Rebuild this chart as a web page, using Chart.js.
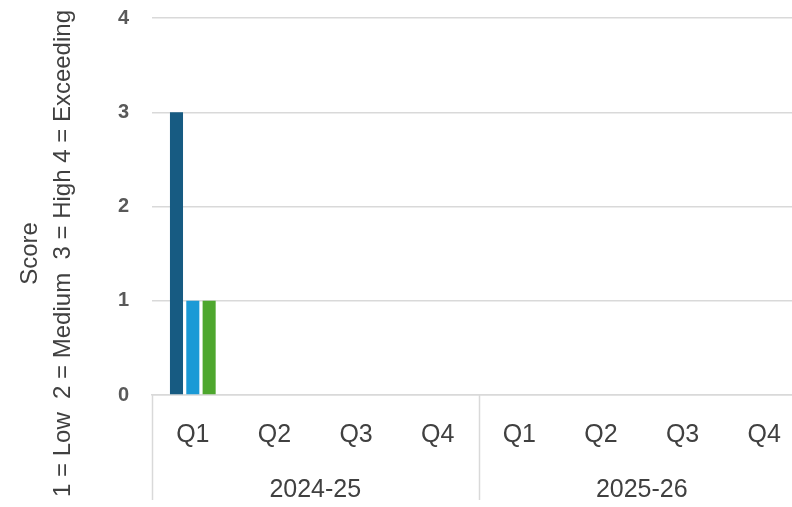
<!DOCTYPE html>
<html>
<head>
<meta charset="utf-8">
<script src="https://cdn.jsdelivr.net/npm/chart.js@4.4.1/dist/chart.umd.min.js"></script>
<style>
  html, body { margin: 0; padding: 0; background: #fff; overflow: hidden; }
  .frame { width: 792px; height: 507px; overflow: hidden; }
  .graph { width: 810px; height: 507px; }
</style>
</head>
<body>
<div class="frame">
  <div class="graph"><canvas id="scoreChart"></canvas></div>
</div>
<script>
const quarters = ['Q1', 'Q2', 'Q3', 'Q4', 'Q1', 'Q2', 'Q3', 'Q4'];
const years = ['2024-25', '2025-26'];
const series1 = [3, null, null, null, null, null, null, null];
const series2 = [1, null, null, null, null, null, null, null];
const series3 = [1, null, null, null, null, null, null, null];
const yTicks = [0, 1, 2, 3, 4];
const titleLines = ['Score', '1 = Low  2 = Medium  3 = High 4 = Exceeding'];

const font = "'Liberation Sans', Arial, sans-serif";
const gridGrey = '#d9d9d9';

// vertical separators under the axis, between year groups
const groupLines = {
    id: 'groupLines',
    afterDraw(chart) {
        const { ctx, chartArea, scales } = chart;
        const per = quarters.length / years.length;
        ctx.save();
        ctx.strokeStyle = gridGrey;
        ctx.lineWidth = 1.5;
        for (let i = 0; i <= years.length; i++) {
            const x = Math.round(scales.x.getPixelForValue(i * per - 0.5)) + 0.5;
            ctx.beginPath();
            ctx.moveTo(x, chartArea.bottom);
            ctx.lineTo(x, 500);
            ctx.stroke();
        }
        ctx.restore();
    }
};

// two-line y title centred on the whole canvas
const yTitle = {
    id: 'yTitle',
    afterDraw(chart) {
        const { ctx, height } = chart;
        ctx.save();
        ctx.fillStyle = '#404040';
        ctx.font = '24px ' + font;
        ctx.textAlign = 'center';
        ctx.textBaseline = 'middle';
        ctx.translate(0, height / 2);
        ctx.rotate(-Math.PI / 2);
        ctx.fillText(titleLines[0], 0, 30);
        ctx.fillText(titleLines[1], 0, 63);
        ctx.restore();
    }
};

new Chart(document.getElementById('scoreChart'), {
    type: 'bar',
    data: {
        labels: quarters,
        datasets: [
            { label: 'Series 1', data: series1, backgroundColor: '#175b82' },
            { label: 'Series 2', data: series2, backgroundColor: '#1b9ad6' },
            { label: 'Series 3', data: series3, backgroundColor: '#4ea72e' },
        ],
    },
    options: {
        responsive: true,
        maintainAspectRatio: false,
        animation: false,
        datasets: { bar: { categoryPercentage: 0.6, barPercentage: 0.8 } },
        layout: { padding: { top: 18, right: 5, left: 0, bottom: 0 } },
        plugins: {
            legend: { display: false },
            tooltip: { enabled: false },
        },
        scales: {
            y: {
                min: 0,
                max: 4,
                afterBuildTicks: (scale) => { scale.ticks = yTicks.map(v => ({ value: v })); },
                afterFit: (scale) => {
                    scale.width = 152;
                    scale.paddingTop = 0;
                    scale.paddingBottom = 0;
                },
                border: { display: false },
                grid: { color: gridGrey, lineWidth: 1.5, drawTicks: false },
                ticks: {
                    padding: 23,
                    color: '#595959',
                    font: { family: font, size: 20, weight: 'bold' },
                },
            },
            x: {
                offset: true,
                afterFit: (scale) => { scale.height = 56; },
                border: { display: true, color: gridGrey, width: 1.5 },
                grid: { display: false },
                ticks: {
                    padding: 17,
                    maxRotation: 0,
                    autoSkip: false,
                    color: '#404040',
                    font: { family: font, size: 25 },
                },
            },
            x2: {
                type: 'category',
                labels: years,
                position: 'bottom',
                offset: true,
                afterFit: (scale) => { scale.height = 56; },
                border: { display: false },
                grid: { display: false },
                ticks: {
                    padding: 16,
                    maxRotation: 0,
                    color: '#404040',
                    font: { family: font, size: 25 },
                },
            },
        },
    },
    plugins: [groupLines, yTitle],
});
</script>
</body>
</html>
